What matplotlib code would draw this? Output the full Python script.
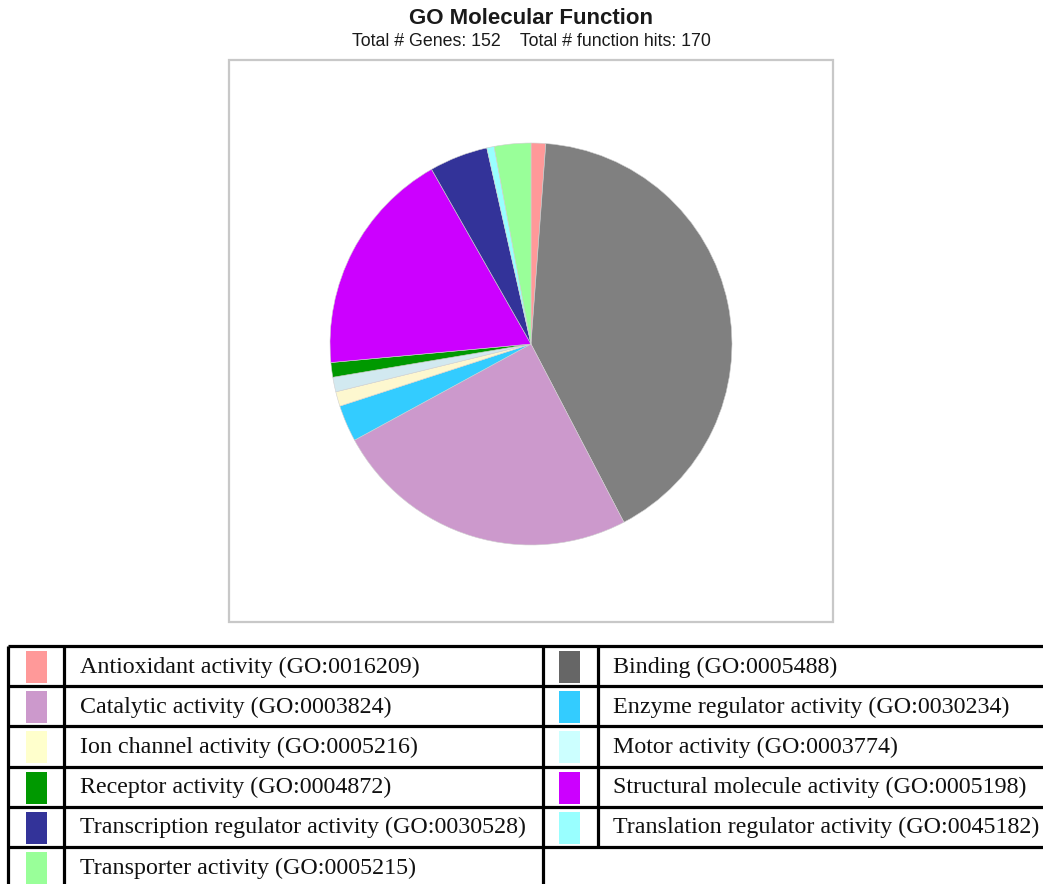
import matplotlib
matplotlib.use("Agg")
import matplotlib.pyplot as plt
from matplotlib.patches import Rectangle

# GO molecular function categories and gene hits
categories = [
    "Antioxidant activity", "Binding", "Catalytic activity",
    "Enzyme regulator activity", "Ion channel activity", "Motor activity",
    "Receptor activity", "Structural molecule activity",
    "Transcription regulator activity", "Translation regulator activity",
    "Transporter activity",
]
go_ids = [
    "GO:0016209", "GO:0005488", "GO:0003824", "GO:0030234", "GO:0005216",
    "GO:0003774", "GO:0004872", "GO:0005198", "GO:0030528", "GO:0045182",
    "GO:0005215",
]
hits = [2, 70, 42, 5, 2, 2, 2, 31, 8, 1, 5]
pie_colors = [
    "#ff9999", "#808080", "#cc99cc", "#33ccff", "#fdf7cf", "#d2e9f0",
    "#009900", "#cc00ff", "#333399", "#99ffff", "#99ff99",
]
legend_colors = [
    "#ff9999", "#666666", "#cc99cc", "#33ccff", "#ffffcc", "#ccffff",
    "#009900", "#cc00ff", "#333399", "#99ffff", "#99ff99",
]
total_genes = 152
total_hits = 170

W, H = 1043, 884
fig = plt.figure(figsize=(W / 100, H / 100), dpi=100)
fig.patch.set_facecolor("white")

# page overlay in pixel units
page = fig.add_axes([0, 0, 1, 1])
page.set_xlim(0, W)
page.set_ylim(H, 0)
page.axis("off")

# chart frame
page.add_patch(Rectangle((229, 60), 604, 562, fill=False,
                         edgecolor="#c8c8c8", lw=1.6))

page.text(531, 18, "GO Molecular Function", ha="center", va="center",
          fontsize=16, fontweight="bold", family="Liberation Sans",
          color="#1a1a1a")
page.text(531, 42,
          f"Total # Genes: {total_genes}    Total # function hits: {total_hits}",
          ha="center", va="center", fontsize=12.8, family="Liberation Sans",
          color="#1a1a1a")

# pie
cx, cy, r = 531, 344, 203
pie_ax = fig.add_axes([(cx - r) / W, 1 - (cy + r) / H, 2 * r / W, 2 * r / H])
pie_ax.pie(hits, colors=pie_colors, startangle=90, counterclock=False,
           radius=1.0,
           wedgeprops=dict(edgecolor="#d0d0d0", linewidth=0.4))
pie_ax.set_xlim(-1.01, 1.01)
pie_ax.set_ylim(-1.01, 1.01)
pie_ax.set_aspect("equal")
pie_ax.axis("off")

# legend table
row_top = 646
row_h = 40.2
x_left, x_sw1, x_mid, x_sw2, x_right = 8, 64, 543, 598, W
lw = 2.3
n_rows = 6
for i in range(n_rows):
    y = row_top + i * row_h
    page.plot([x_left, x_right], [y, y], color="black", lw=lw,
              solid_capstyle="butt")
for x in (x_left, x_sw1, x_mid):
    page.plot([x, x], [row_top, H + 5], color="black", lw=lw,
              solid_capstyle="butt")
last_line = row_top + 5 * row_h
page.plot([x_sw2, x_sw2], [row_top, last_line], color="black", lw=lw,
          solid_capstyle="butt")

for k, (cat, gid, col) in enumerate(zip(categories, go_ids, legend_colors)):
    row, colidx = divmod(k, 2)
    top = row_top + row * row_h
    sx = 26 if colidx == 0 else 559
    tx = 80 if colidx == 0 else 613
    page.add_patch(Rectangle((sx, top + 5), 21, 32, facecolor=col,
                             edgecolor="none"))
    page.text(tx, top + row_h / 2 + 1, f"{cat} ({gid})", ha="left",
              va="center", fontsize=17.3, family="Liberation Serif",
              color="#111111")

fig.savefig("out.png", dpi=100, facecolor="white")
